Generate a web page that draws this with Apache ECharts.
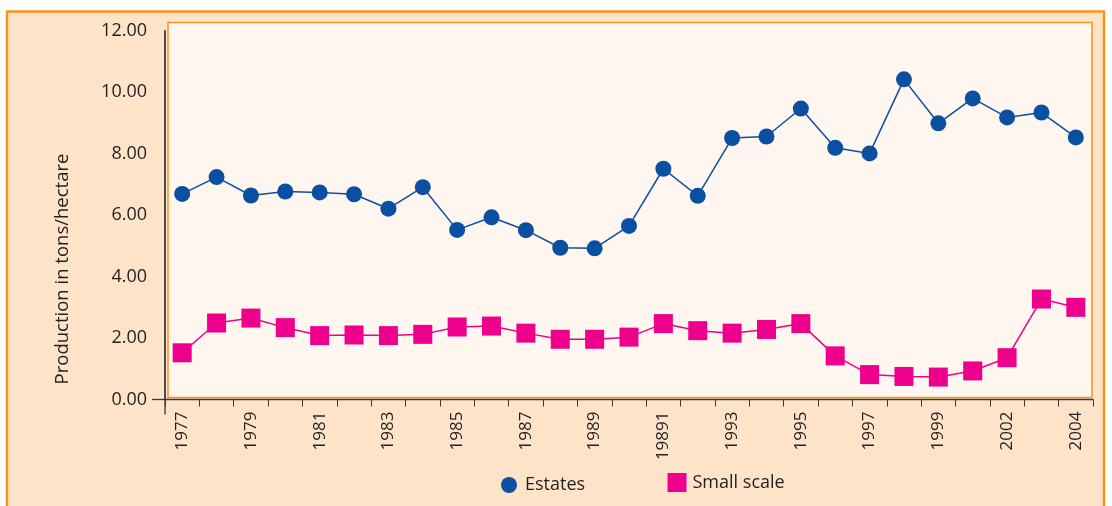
<!DOCTYPE html>
<html>
<head>
<meta charset="utf-8">
<title>Production in tons/hectare</title>
<script src="https://cdn.jsdelivr.net/npm/echarts@6/dist/echarts.min.js"></script>
<style>
  html, body { margin: 0; padding: 0; background: #ffffff; }
  #chart { width: 1112px; height: 506px; }
</style>
</head>
<body>
<div id="chart"></div>
<script>
// Year categories along the x axis (labels are shown on every other year)
const years = [
  '1977', '1978', '1979', '1980', '1981', '1982', '1983', '1984', '1985',
  '1986', '1987', '1988', '1989', '1990', '19891', '1992', '1993', '1994',
  '1995', '1996', '1997', '1998', '1999', '2000', '2002', '2003', '2004'
];

// Yield of estates, tons per hectare
const estates = [
  6.69, 7.24, 6.64, 6.77, 6.74, 6.68, 6.21, 6.91, 5.52,
  5.93, 5.51, 4.94, 4.92, 5.65, 7.51, 6.63, 8.51, 8.56,
  9.47, 8.19, 8.01, 10.42, 8.99, 9.80, 9.18, 9.34, 8.53
];

// Yield of small-scale growers, tons per hectare
const smallScale = [
  1.52, 2.49, 2.65, 2.34, 2.08, 2.10, 2.08, 2.12, 2.36,
  2.39, 2.16, 1.96, 1.96, 2.03, 2.47, 2.24, 2.16, 2.28,
  2.47, 1.42, 0.81, 0.75, 0.73, 0.93, 1.36, 3.27, 3.00
];

// Value axis ticks
const yTicks = { min: 0, max: 12, interval: 2 };

const FONT = '"Open Sans", "Noto Sans", sans-serif';
const TEXT = '#231f20';
const ORANGE = '#f7941d';
const BLUE = '#0b4fa2';
const MAGENTA = '#ec008c';

const GRID = { left: 165, right: 19, top: 30.8, bottom: 106.5 };

const chart = echarts.init(document.getElementById('chart'), null, { renderer: 'canvas' });

const H = 506;
const x0 = GRID.left;
const y0 = H - GRID.bottom;

chart.setOption({
  backgroundColor: '#ffffff',
  animation: false,
  graphic: [
    // outer framed panel
    {
      type: 'rect', z: -10, silent: true,
      shape: { x: 7, y: 11.5, width: 1097, height: 520 },
      style: { fill: '#fde4c9', stroke: ORANGE, lineWidth: 2.5 }
    },
    // plotting panel
    {
      type: 'rect', z: -9, silent: true,
      shape: { x: 168, y: 22.5, width: 924, height: 375 },
      style: { fill: '#fef6ef', stroke: ORANGE, lineWidth: 1.5 }
    },
    // axis overhangs at the origin
    {
      type: 'line', z: 5, silent: true,
      shape: { x1: x0 - 13, y1: y0, x2: x0, y2: y0 },
      style: { stroke: '#3a3a3a', lineWidth: 1.3 }
    },
    {
      type: 'line', z: 5, silent: true,
      shape: { x1: x0, y1: y0, x2: x0, y2: y0 + 15 },
      style: { stroke: '#3a3a3a', lineWidth: 1.3 }
    },
    // value axis title
    {
      type: 'text', silent: true,
      x: 63, y: 269, rotation: Math.PI / 2,
      style: {
        text: 'Production in tons/hectare',
        font: '18.5px ' + FONT,
        fill: TEXT,
        align: 'center',
        verticalAlign: 'middle'
      }
    }
  ],
  grid: GRID,
  legend: [
    {
      data: [{ name: 'Estates', icon: 'circle' }],
      left: 501, top: 476, padding: 0,
      itemWidth: 16, itemHeight: 16,
      textStyle: { fontFamily: FONT, fontSize: 18, color: TEXT, padding: [0, 0, 0, 3] }
    },
    {
      data: [{ name: 'Small scale', icon: 'rect' }],
      left: 667.5, top: 473, padding: 0,
      itemWidth: 19, itemHeight: 19,
      textStyle: { fontFamily: FONT, fontSize: 18, color: TEXT, padding: [0, 0, 0, 1] }
    }
  ],
  xAxis: {
    type: 'category',
    data: years,
    boundaryGap: true,
    axisLine: { show: true, lineStyle: { color: '#3a3a3a', width: 1.3 } },
    axisTick: { show: true, interval: 0, length: 7, lineStyle: { color: '#3a3a3a', width: 1 } },
    axisLabel: {
      interval: 1,
      rotate: 90,
      margin: 12,
      fontFamily: FONT,
      fontSize: 17,
      color: TEXT
    },
    splitLine: { show: false }
  },
  yAxis: {
    type: 'value',
    min: yTicks.min,
    max: yTicks.max,
    interval: yTicks.interval,
    axisLine: { show: true, lineStyle: { color: '#3a3a3a', width: 1.8 } },
    axisTick: { show: false },
    splitLine: { show: false },
    axisLabel: {
      margin: 18,
      fontFamily: FONT,
      fontSize: 18,
      color: TEXT,
      formatter: v => v.toFixed(2)
    }
  },
  series: [
    {
      name: 'Estates',
      type: 'line',
      data: estates,
      symbol: 'circle',
      symbolSize: 16,
      lineStyle: { color: BLUE, width: 1.5 },
      itemStyle: { color: BLUE },
      z: 3
    },
    {
      name: 'Small scale',
      type: 'line',
      data: smallScale,
      symbol: 'rect',
      symbolSize: 19,
      lineStyle: { color: MAGENTA, width: 1.5 },
      itemStyle: { color: MAGENTA },
      z: 3
    }
  ]
});
</script>
</body>
</html>
